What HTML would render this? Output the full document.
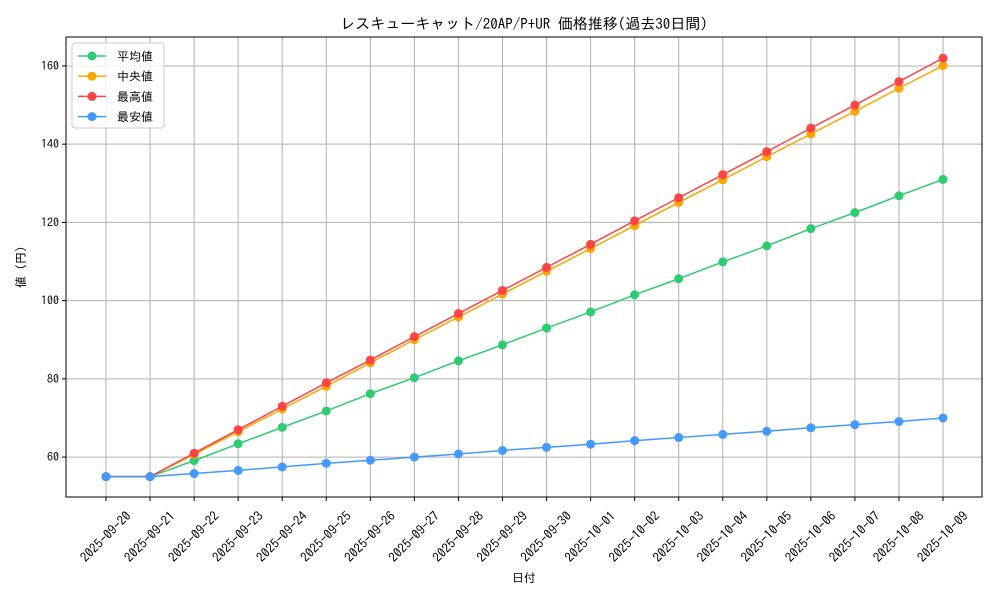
<!DOCTYPE html>
<html><head><meta charset="utf-8"><style>
body{margin:0;background:#fff}
svg text{font-family:"IPAGothic","Liberation Mono","Noto Sans CJK JP",monospace}
</style></head><body>
<svg id="chart" width="1000" height="600" xmlns="http://www.w3.org/2000/svg">
<rect width="1000" height="600" fill="#fff"/>
<text x="524" y="29" text-anchor="middle" font-size="15" fill="#000">レスキューキャット/20AP/P+UR 価格推移(過去30日間)</text>
<g id="grid"></g>
<g id="series"></g>
<rect x="66" y="37" width="916" height="460" fill="none" stroke="#000" stroke-width="1"/>
<g id="axes"></g>
<text x="524" y="582" text-anchor="middle" font-size="12">日付</text>
<text transform="translate(25,267) rotate(-90)" text-anchor="middle" font-size="12">値 (円)</text>
<g id="legend"></g>
</svg>
<script>
const dates=["2025-09-20","2025-09-21","2025-09-22","2025-09-23","2025-09-24","2025-09-25","2025-09-26","2025-09-27","2025-09-28","2025-09-29","2025-09-30","2025-10-01","2025-10-02","2025-10-03","2025-10-04","2025-10-05","2025-10-06","2025-10-07","2025-10-08","2025-10-09"];
const meanVals=[55,55,59.1,63.4,67.6,71.8,76.2,80.3,84.6,88.7,93.0,97.1,101.5,105.6,109.9,114.0,118.4,122.5,126.8,131.0];
const medianVals=[55,55,60.7,66.5,72.3,78.1,84.1,90,95.8,101.7,107.5,113.3,119.2,125.1,130.9,136.8,142.6,148.4,154.3,160.1];
const maxVals=[55,55,61,67,73,79,84.8,90.8,96.7,102.6,108.5,114.4,120.4,126.3,132.2,138.1,144.1,150,156,162];
const minVals=[55,55,55.8,56.6,57.5,58.4,59.2,60,60.8,61.7,62.5,63.3,64.2,65,65.8,66.6,67.5,68.3,69.1,70];
const yTicks=[60,80,100,120,140,160];
const seriesNames=["平均値","中央値","最高値","最安値"];
const NS="http://www.w3.org/2000/svg";
const L=66,R=982,T=37,B=497,yMin=49.8,yMax=167.4,xMin=-0.908,xMax=19.885;
const xs=i=>L+(i-xMin)/(xMax-xMin)*(R-L);
const ys=v=>B-(v-yMin)/(yMax-yMin)*(B-T);
function mk(tag,attrs,parent){const e=document.createElementNS(NS,tag);for(const k in attrs)e.setAttribute(k,attrs[k]);parent.appendChild(e);return e;}
const grid=document.getElementById('grid'),axes=document.getElementById('axes'),ser=document.getElementById('series'),leg=document.getElementById('legend');
dates.forEach((d,i)=>{const x=xs(i);
 const g=mk('line',{x1:x,x2:x,y1:T,y2:B,stroke:'#b0b0b0','stroke-width':1},grid);
 
 
 mk('line',{x1:x,x2:x,y1:B,y2:B+4,stroke:'#000'},axes);
 const cy=B+40;
 const t=mk('text',{x:x,y:cy+4,'font-size':13,'text-anchor':'middle',transform:`rotate(-45 ${x} ${cy})`},axes);
 t.textContent=d;
 
 
});
yTicks.forEach(v=>{const y=ys(v);
 const g=mk('line',{x1:L,x2:R,y1:y,y2:y,stroke:'#b0b0b0','stroke-width':1},grid);
 
 
 mk('line',{x1:L-4,x2:L,y1:y,y2:y,stroke:'#000'},axes);
 const t=mk('text',{x:L-7,y:y+4,'font-size':12,'text-anchor':'end'},axes);
 t.textContent=v;
 
 
});
const allSeries=[[meanVals,'#2ecc71'],[medianVals,'#ffa500'],[maxVals,'#ff4444'],[minVals,'#4499ff']];
allSeries.forEach(([vals,c],si)=>{
 const g=mk('g',{},ser);
 
 
 mk('polyline',{points:vals.map((v,i)=>xs(i)+','+ys(v)).join(' '),fill:'none',stroke:c,'stroke-width':1.5},g);
 vals.forEach((v,i)=>{const p=mk('circle',{cx:xs(i),cy:ys(v),r:4.5,fill:c},g);
  
  });
});
const lb=mk('rect',{x:72,y:43,width:92,height:85,rx:3,fill:'#fff','fill-opacity':0.8,stroke:'#ccc'},leg);


seriesNames.forEach((n,i)=>{const y=56+i*20.2,c=allSeries[i][1];
 const g=mk('g',{},leg);
 
 
 mk('line',{x1:78,x2:106,y1:y,y2:y,stroke:c,'stroke-width':1.5},g);
 mk('circle',{cx:92,cy:y,r:4.5,fill:c},g);
 const t=mk('text',{x:117,y:y+4.5,'font-size':12},g);t.textContent=n;
});
</script>
</body></html>
